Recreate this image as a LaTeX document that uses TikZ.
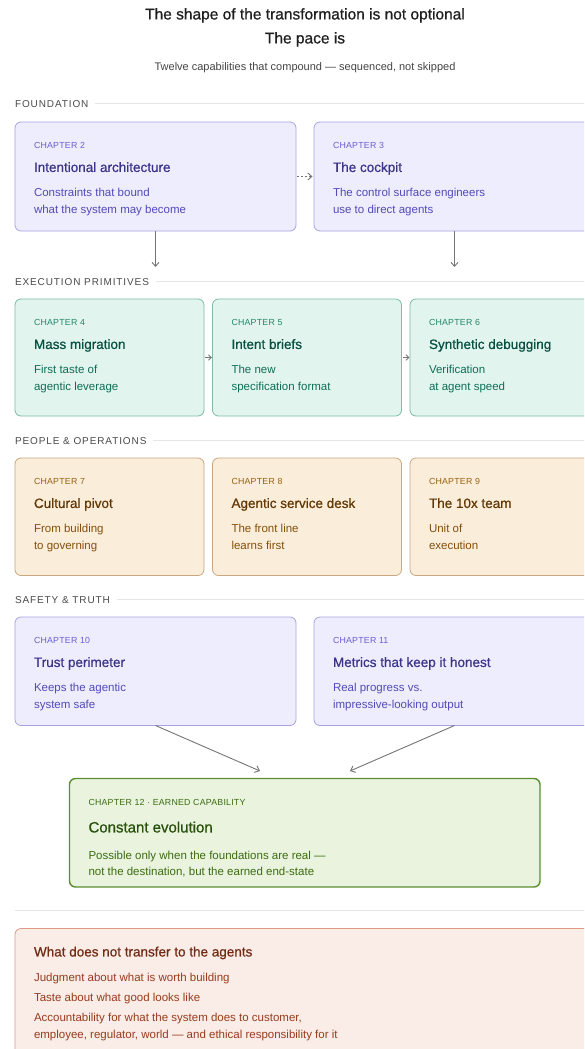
\documentclass[tikz,border=0pt]{standalone}
\usepackage{fontspec}
\setmainfont{Liberation Sans}
\newfontfamily\medfont[FakeBold=0.7]{Liberation Sans}
\usetikzlibrary{arrows.meta}

% palette
\definecolor{ink}{HTML}{1F1F1F}
\definecolor{subink}{HTML}{454545}
\definecolor{secink}{HTML}{4A4A4A}
\definecolor{rule}{HTML}{E6E6E6}
\definecolor{arrowgray}{HTML}{757575}
% lavender
\definecolor{pfill}{HTML}{EEEDFE}
\definecolor{pline}{HTML}{A8A2E2}
\definecolor{plbl}{HTML}{6A5ED2}
\definecolor{pttl}{HTML}{3C3489}
\definecolor{pdsc}{HTML}{534AB7}
% teal
\definecolor{tfill}{HTML}{E1F5EE}
\definecolor{tline}{HTML}{7DBBA2}
\definecolor{tlbl}{HTML}{23866A}
\definecolor{tttl}{HTML}{085041}
\definecolor{tdsc}{HTML}{0F6E56}
% amber
\definecolor{afill}{HTML}{FAEEDA}
\definecolor{aline}{HTML}{C9A780}
\definecolor{albl}{HTML}{965F12}
\definecolor{attl}{HTML}{633806}
\definecolor{adsc}{HTML}{854F0B}
% leaf green
\definecolor{gfill}{HTML}{EAF3DE}
\definecolor{gline}{HTML}{5B8F31}
\definecolor{glbl}{HTML}{3B6D11}
\definecolor{gttl}{HTML}{27500A}
\definecolor{gdsc}{HTML}{3B6D11}
% coral
\definecolor{cfill}{HTML}{FAECE7}
\definecolor{cline}{HTML}{DE9A84}
\definecolor{cttl}{HTML}{712B13}
\definecolor{citem}{HTML}{993C1D}

\tikzset{
  every node/.style={inner sep=0pt, outer sep=0pt},
  card/.style={rounded corners=6pt, line width=0.8pt, anchor=north west},
  pcard/.style={card, fill=pfill, draw=pline},
  tcard/.style={card, fill=tfill, draw=tline},
  acard/.style={card, fill=afill, draw=aline},
  gcard/.style={card, fill=gfill, draw=gline, line width=1.4pt},
  ccard/.style={card, fill=cfill, draw=cline},
  txt/.style={anchor=mid west, yshift=-1.8pt},
  lbl/.style={txt, font=\addfontfeatures{LetterSpace=2.5}\fontsize{8.8}{10}\selectfont},
  ttl/.style={txt, font=\medfont\fontsize{13.5}{16}\selectfont},
  dsc/.style={txt, font=\fontsize{11.5}{14}\selectfont},
  sec/.style={txt, text=secink, font=\addfontfeatures{LetterSpace=9}\fontsize{10}{12}\selectfont},
  secline/.style={draw=rule, line width=0.9pt},
  arr/.style={draw=arrowgray, line width=0.9pt, -{Straight Barb[length=4pt, width=7pt]}},
}

% label, title and two description lines inside a chapter card
\newcommand\chaptext[6]{%
  \node[lbl, text=#1lbl] (#2-l) at ([shift={(19,22)}]#2.north west) {#3};
  \node[ttl, text=#1ttl] (#2-t) at ([shift={(19,45.5)}]#2.north west) {#4};
  \node[dsc, text=#1dsc] (#2-a) at ([shift={(19,70.5)}]#2.north west) {#5};
  \node[dsc, text=#1dsc] (#2-b) at ([shift={(19,87)}]#2.north west) {#6};
}

\begin{document}
\begin{tikzpicture}[x=1pt, y=-1pt]
\useasboundingbox (0,0) rectangle (584,1049);
\clip (0,0) rectangle (584,1049);
\fill[white] (0,0) rectangle (584,1049);

% heading
\node[text=ink, font=\medfont\fontsize{15.5}{18}\selectfont, anchor=mid, yshift=-1.8pt] (head1) at (305,15) {The shape of the transformation is not optional};
\node[text=ink, font=\medfont\fontsize{15.5}{18}\selectfont, anchor=mid, yshift=-1.8pt] (head2) at (305,39) {The pace is};
\node[text=subink, font=\fontsize{11}{13}\selectfont, anchor=mid, yshift=-1.8pt] (sub) at (305,66) {Twelve capabilities that compound — sequenced, not skipped};

% section headings
\node[sec] (s1) at (15,103.5) {FOUNDATION};
\node[sec] (s2) at (15,281) {EXECUTION PRIMITIVES};
\node[sec] (s3) at (15,440) {PEOPLE \& OPERATIONS};
\node[sec] (s4) at (15,599) {SAFETY \& TRUTH};
\coordinate (s1e) at (600,103.5);
\coordinate (s2e) at (600,281);
\coordinate (s3e) at (600,440);
\coordinate (s4e) at (600,599);
\draw[secline] (s1.east |- s1e) ++(7,0) -- (s1e);
\draw[secline] (s2.east |- s2e) ++(7,0) -- (s2e);
\draw[secline] (s3.east |- s3e) ++(7,0) -- (s3e);
\draw[secline] (s4.east |- s4e) ++(7,0) -- (s4e);

% foundation
\node[pcard, minimum width=281pt, minimum height=109pt] (c2) at (15,122) {};
\node[pcard, minimum width=281pt, minimum height=109pt] (c3) at (314,122) {};
\chaptext{p}{c2}{CHAPTER 2}{Intentional architecture}{Constraints that bound}{what the system may become}
\chaptext{p}{c3}{CHAPTER 3}{The cockpit}{The control surface engineers}{use to direct agents}
\draw[arr, dash pattern=on 2pt off 2pt] ([xshift=1pt]c2.east) -- ([xshift=-1.5pt]c3.west);
\coordinate (c2end) at (155.5,267);
\coordinate (c3end) at (454.5,267);
\draw[arr] (c2.south) -- (c2end);
\draw[arr] (c3.south) -- (c3end);

% execution primitives
\node[tcard, minimum width=189pt, minimum height=117pt] (c4) at (15,299) {};
\node[tcard, minimum width=189pt, minimum height=117pt] (c5) at (212.5,299) {};
\node[tcard, minimum width=189pt, minimum height=117pt] (c6) at (410,299) {};
\chaptext{t}{c4}{CHAPTER 4}{Mass migration}{First taste of}{agentic leverage}
\chaptext{t}{c5}{CHAPTER 5}{Intent briefs}{The new}{specification format}
\chaptext{t}{c6}{CHAPTER 6}{Synthetic debugging}{Verification}{at agent speed}
\draw[arr, line width=0.8pt, -{Straight Barb[length=3pt, width=5.5pt]}] ([xshift=1pt]c4.east) -- ([xshift=-0.5pt]c5.west);
\draw[arr, line width=0.8pt, -{Straight Barb[length=3pt, width=5.5pt]}] ([xshift=1pt]c5.east) -- ([xshift=-0.5pt]c6.west);

% people & operations
\node[acard, minimum width=189pt, minimum height=117.5pt] (c7) at (15,458) {};
\node[acard, minimum width=189pt, minimum height=117.5pt] (c8) at (212.5,458) {};
\node[acard, minimum width=189pt, minimum height=117.5pt] (c9) at (410,458) {};
\chaptext{a}{c7}{CHAPTER 7}{Cultural pivot}{From building}{to governing}
\chaptext{a}{c8}{CHAPTER 8}{Agentic service desk}{The front line}{learns first}
\chaptext{a}{c9}{CHAPTER 9}{The 10x team}{Unit of}{execution}

% safety & truth
\node[pcard, minimum width=281pt, minimum height=108.5pt] (c10) at (15,617) {};
\node[pcard, minimum width=281pt, minimum height=108.5pt] (c11) at (314,617) {};
\chaptext{p}{c10}{CHAPTER 10}{Trust perimeter}{Keeps the agentic}{system safe}
\chaptext{p}{c11}{CHAPTER 11}{Metrics that keep it honest}{Real progress vs.}{impressive-looking output}

% earned capability
\node[gcard, minimum width=470.5pt, minimum height=108.5pt] (c12) at (69.5,778.5) {};
\node[lbl, text=glbl] (c12-l) at ([shift={(19,22.5)}]c12.north west) {CHAPTER 12 · EARNED CAPABILITY};
\node[txt, text=gttl, font=\medfont\fontsize{15}{18}\selectfont] (c12-t) at ([shift={(19,49.5)}]c12.north west) {Constant evolution};
\node[dsc, text=gdsc] (c12-a) at ([shift={(19,76.5)}]c12.north west) {Possible only when the foundations are real —};
\node[dsc, text=gdsc] (c12-b) at ([shift={(19,93)}]c12.north west) {not the destination, but the earned end-state};
\coordinate (c12inL) at (260,771);
\coordinate (c12inR) at (350,771);
\draw[arr] (c10.south) -- (c12inL);
\draw[arr] (c11.south) -- (c12inR);

% closing rule
\coordinate (endL) at (15,910.5);
\coordinate (endR) at (600,910.5);
\draw[secline] (endL) -- (endR);

% what stays human
\node[ccard, minimum width=600pt, minimum height=160pt] (keep) at (15,928.5) {};
\node[txt, text=cttl, font=\medfont\fontsize{13.5}{16}\selectfont] (keep-t) at ([shift={(19,23.5)}]keep.north west) {What does not transfer to the agents};
\node[dsc, text=citem] (keep-1) at ([shift={(19,49)}]keep.north west) {Judgment about what is worth building};
\node[dsc, text=citem] (keep-2) at ([shift={(19,69)}]keep.north west) {Taste about what good looks like};
\node[dsc, text=citem] (keep-3) at ([shift={(19,89)}]keep.north west) {Accountability for what the system does to customer,};
\node[dsc, text=citem] (keep-4) at ([shift={(19,105.5)}]keep.north west) {employee, regulator, world — and ethical responsibility for it};
\end{tikzpicture}
\end{document}
